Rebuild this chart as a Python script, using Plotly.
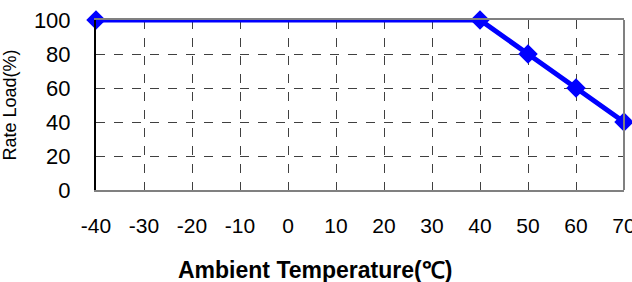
import plotly.graph_objects as go

temperature = [-40, 40, 50, 60, 70]
rate_load = [100, 100, 80, 60, 40]
x_ticks = [-40, -30, -20, -10, 0, 10, 20, 30, 40, 50, 60, 70]
y_ticks = [0, 20, 40, 60, 80, 100]

fig = go.Figure()
fig.add_trace(go.Scatter(
    x=temperature, y=rate_load, mode="lines+markers",
    line=dict(color="#0000FF", width=5),
    marker=dict(symbol="diamond", size=15, color="#0000FF"),
    cliponaxis=False, showlegend=False,
))

font_family = "Liberation Sans, Arial, sans-serif"
fig.update_layout(
    width=632, height=282,
    margin=dict(l=96, r=8, t=20, b=92, autoexpand=False),
    paper_bgcolor="white", plot_bgcolor="white",
    font=dict(family=font_family, color="black"),
    xaxis=dict(
        range=[-40, 70], tickvals=x_ticks, ticktext=[str(v) for v in x_ticks],
        showgrid=True, gridcolor="#404040", griddash="dash", gridwidth=1,
        showline=True, linecolor="#808080", linewidth=2, mirror=True,
        ticks="", tickfont=dict(size=21), ticklabelstandoff=16,
        ticklabeloverflow="allow",
        zeroline=False, automargin=False,
    ),
    yaxis=dict(
        range=[0, 100], tickvals=y_ticks,
        showgrid=True, gridcolor="#404040", griddash="dash", gridwidth=1,
        showline=True, linecolor="#000000", linewidth=2,
        ticks="", tickfont=dict(size=22), ticklabelstandoff=19,
        ticklabeloverflow="allow",
        zeroline=False, automargin=False,
        title=dict(text="Rate Load(%)", font=dict(size=18), standoff=13),
    ),
    annotations=[dict(
        text="<b>Ambient Temperature(℃)</b>", xref="paper", yref="paper",
        x=0.415, y=-0.47, xanchor="center", yanchor="middle",
        showarrow=False, font=dict(size=23),
    )],
    shapes=[dict(type="line", xref="paper", yref="paper", x0=1, x1=1, y0=0, y1=1,
                 line=dict(color="#808080", width=2))],
)

fig.write_html(
    "out.html",
    config={"displayModeBar": False},
    post_script="document.body.style.margin='0';document.body.style.overflow='hidden';",
)
